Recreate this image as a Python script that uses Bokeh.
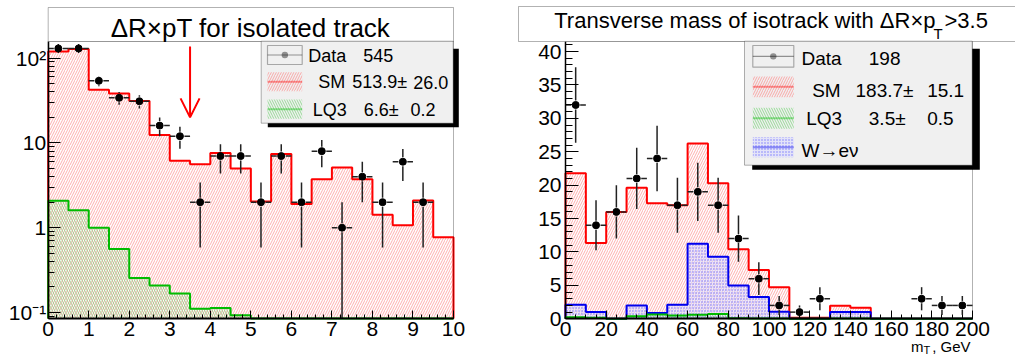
import math
from bokeh.plotting import figure
from bokeh.models import (Range1d, BoxAnnotation, Label, Arrow, OpenHead, FixedTicker,
                          SingleIntervalTicker, CustomJSTickFormatter)
from bokeh.layouts import row
from bokeh.embed import file_html
from bokeh.resources import INLINE

# ---------------- data : left panel (Delta R x pT, 0.5 wide bins) ----------------
DR_EDGES = [0.0, 0.5, 1.0, 1.5, 2.0, 2.5, 3.0, 3.5, 4.0, 4.5, 5.0,
            5.5, 6.0, 6.5, 7.0, 7.5, 8.0, 8.5, 9.0, 9.5, 10.0]
DR_SM = [120, 128, 42.3, 38.3, 31.3, 12.4, 6.15, 5.6, 7.6, 5.0,
         2.04, 7.4, 1.9, 3.74, 5.13, 3.74, 1.42, 1.07, 2.09, 0.77]
DR_LQ3 = [2.08, 1.61, 1.0, 0.56, 0.256, 0.208, 0.168, 0.111, 0.113, 0.093,
          0.05, 0.05, 0.04, 0.04, 0.04, 0.04, 0.03, 0.03, 0.03, 0.03]
DR_DATA = [130, 130, 54, 34, 31, 16, 12, 2, 7, 7, 2, 7, 2, 8, 1, 4, 2, 6, 2, 0]
DR_CUT = 3.5
DR_ARROW_Y = (137, 20)

# ---------------- data : right panel (mT, 10 GeV bins) ----------------
MT_EDGES = [0, 10, 20, 30, 40, 50, 60, 70, 80, 90, 100,
            110, 120, 130, 140, 150, 160, 170, 180, 190, 200]
MT_SM = [21.8, 11.35, 16.0, 19.6, 17.3, 17.0, 26.25, 20.3, 10.4, 7.3,
         4.72, 0.15, 0.15, 1.94, 1.64, 0, 0, 0, 0, 0]
MT_LQ3 = [0.25, 0.15, 0.0, 0.4, 0.65, 0.5, 0.6, 0.7, 0.1, 0.05,
          0.05, 0, 0, 0.05, 0.05, 0, 0, 0, 0, 0]
MT_W = [2.1, 1.0, 0.0, 2.0, 0.85, 2.1, 11.25, 9.3, 5.0, 3.25,
        1.05, 0, 0, 1.0, 1.0, 0, 0, 0, 0, 0]
MT_DATA = [32, 14, 16, 21, 24, 17, 19, 17, 12, 6, 2, 1, 3, 0, 0, 0, 0, 3, 2, 2]

LEFT_TITLE = "ΔR×pT for isolated track"
RIGHT_TITLE = ("Transverse mass of isotrack with ΔR×p", "T", ">3.5")
LEFT_LEGEND = [("Data", "545", ""), ("SM", "513.9±", "26.0"), ("LQ3", "6.6±", "0.2")]
RIGHT_LEGEND = [("Data", "198", ""), ("SM", "183.7±", "15.1"), ("LQ3", "3.5±", "0.5"),
                ("W→eν", "", "")]
XLABEL_RIGHT = ("m", "T", ", GeV")

# ---------------- style / geometry ----------------
FONT = "Liberation Sans"
RED, GREEN, BLUE = "#ff0000", "#00bb00", "#0000ee"
SM_HATCH = dict(hatch_pattern="/", hatch_color="#ff7878", hatch_alpha=0.6, hatch_scale=5, hatch_weight=1)
LQ_HATCH = dict(hatch_pattern="\\", hatch_color="#50c850", hatch_alpha=0.55, hatch_scale=5, hatch_weight=1)
W_HATCH = dict(hatch_pattern=".", hatch_color="#3030ff", hatch_alpha=0.6, hatch_scale=3, hatch_weight=1)
W_FILL = ("#d8d8ff", 0.55)

W1, W2, H = 508, 507, 357
# data frames in canvas pixels (left, right, top, bottom)
F1 = (47.7, 453.0, 41.0, 318.0)
F2 = (57.0, 464.0, 41.0, 318.3)
Y1MIN, Y1MAX = 0.085, 157.0
Y2MAX = 41.5
GAP = 4.5


def lin_range(lo, hi, a, b, size):
    """range that puts data lo at pixel a and hi at pixel b on a canvas of given size"""
    k = (hi - lo) / (b - a)
    return lo - a * k, hi + (size - b) * k


def style_axis(ax, tin, mtin, standoff, bounds, loc, lw=1.5):
    ax.fixed_location = loc
    ax.bounds = bounds
    ax.major_tick_in = tin
    ax.major_tick_out = 0
    ax.minor_tick_in = mtin
    ax.minor_tick_out = 0
    ax.axis_line_color = "black"
    ax.axis_line_width = lw
    ax.major_tick_line_color = "black"
    ax.minor_tick_line_color = "black"
    ax.major_label_text_font = FONT
    ax.major_label_text_font_size = "21px"
    ax.major_label_text_color = "black"
    ax.major_label_standoff = standoff


def base_fig(w, xr, yr, **kw):
    p = figure(width=w, height=H, x_range=xr, y_range=yr, output_backend="svg",
               toolbar_location=None, title=None,
               min_border_left=0, min_border_right=0, min_border_top=0, min_border_bottom=0, **kw)
    p.xgrid.visible = False
    p.ygrid.visible = False
    p.outline_line_color = None
    p.background_fill_color = "white"
    p.border_fill_color = "white"
    return p


def step_line(edges, vals, base):
    xs, ys = [edges[0]], [base]
    for i, v in enumerate(vals):
        xs += [edges[i], edges[i + 1]]
        ys += [max(v, base), max(v, base)]
    xs.append(edges[-1])
    ys.append(base)
    return xs, ys


def hist(p, edges, vals, base, color, hatch, fill=None):
    kw = dict(fill_alpha=0)
    if fill:
        kw = dict(fill_color=fill[0], fill_alpha=fill[1])
    p.quad(left=edges[:-1], right=edges[1:], bottom=[base] * len(vals),
           top=[max(v, base) for v in vals], line_alpha=0, **kw, **hatch)
    xs, ys = step_line(edges, vals, base)
    p.line(xs, ys, line_color=color, line_width=2)


def data_points(p, edges, counts, up, down, gx, low):
    x0, y0, x1, y1, cx, cy = [], [], [], [], [], []
    for i, n in enumerate(counts):
        if n <= 0:
            continue
        lo, hi = edges[i], edges[i + 1]
        c = 0.5 * (lo + hi)
        e = math.sqrt(n)
        cx.append(c)
        cy.append(n)
        x0 += [c, c, lo, c + gx]
        x1 += [c, c, c - gx, hi]
        y0 += [up(n), down(n), n, n]
        y1 += [n + e, max(n - e, low), n, n]
    p.segment(x0=x0, y0=y0, x1=x1, y1=y1, line_color="#222222", line_width=1.5)
    p.scatter(cx, cy, size=7, fill_color="black", line_color="black")


def cbox(p, l, r, t, b, **kw):
    p.add_layout(BoxAnnotation(left=l, right=r, top=t, bottom=b, left_units="canvas",
                               right_units="canvas", top_units="canvas", bottom_units="canvas",
                               level="annotation", **kw))


def clabel(p, x, y, text, size, align="left"):
    # y is the vertical middle of the text box, in canvas pixels from the top
    p.add_layout(Label(x=x, y=y, x_units="canvas", y_units="canvas", text=text,
                       text_font=FONT, text_font_size=size, text_align=align,
                       text_baseline="middle", text_color="black"))


def legend(p, box, shadow, sw_x, rows, swatches, size):
    cbox(p, *shadow, fill_color="black", fill_alpha=1, line_alpha=0)
    cbox(p, *box, fill_color="#f0f0f0", fill_alpha=1, line_color="black", line_width=1)
    for (kind, top, bot), (name_x, mid_t, name, v1x, v1, v2x, v2) in zip(swatches, rows):
        mid = 0.5 * (top + bot)
        if kind == "data":
            cbox(p, sw_x[0], sw_x[1], top, bot, fill_alpha=0, line_color="black", line_width=1.2)
            cbox(p, sw_x[0], sw_x[1], mid - 0.6, mid + 0.6, fill_color="black", line_alpha=0)
            cx = 0.5 * (sw_x[0] + sw_x[1])
            cbox(p, cx - 3.2, cx + 3.2, mid - 3.2, mid + 3.2, fill_color="black", line_alpha=0,
                 border_radius=3)
        else:
            color, hatch, fill = kind
            if fill:
                cbox(p, sw_x[0], sw_x[1], top, bot, fill_color=fill[0], fill_alpha=fill[1],
                     line_alpha=0, **hatch)
            else:
                cbox(p, sw_x[0], sw_x[1], top, bot, fill_alpha=0, line_alpha=0, **hatch)
            cbox(p, sw_x[0], sw_x[1], mid - 1, mid + 1, fill_color=color, line_alpha=0)
        clabel(p, name_x, mid_t, name, size)
        if v1:
            clabel(p, v1x, mid_t, v1, size)
        if v2:
            clabel(p, v2x, mid_t, v2, size)


# ======================= left panel =======================
ppd = (F1[3] - F1[2]) / math.log10(Y1MAX / Y1MIN)          # pixels per decade
x1r = lin_range(0, 10, F1[0], F1[1], W1)
y1r = (10 ** (math.log10(Y1MIN) - (H - F1[3]) / ppd), 10 ** (math.log10(Y1MAX) + F1[2] / ppd))
p1 = base_fig(W1, Range1d(*x1r), Range1d(*y1r), y_axis_type="log")
style_axis(p1.xaxis[0], 8, 4, 3, (0, 10), Y1MIN, lw=2)
style_axis(p1.yaxis[0], 12, 6, 2, (Y1MIN, Y1MAX), 0)
p1.xaxis.ticker = SingleIntervalTicker(interval=1, num_minor_ticks=5)
p1.yaxis.ticker = FixedTicker(ticks=[0.1, 1, 10, 100],
                              minor_ticks=[m * d for d in (0.01, 0.1, 1, 10) for m in range(2, 10)
                                           if Y1MIN < m * d < Y1MAX])
p1.yaxis.formatter = CustomJSTickFormatter(code="""
    if (tick > 50) return "10\u00b2";
    if (tick > 5) return "10";
    if (tick > 0.5) return "1";
    return "10\u207b\u00b9";
""")

hist(p1, DR_EDGES, DR_SM, Y1MIN, RED, SM_HATCH)
hist(p1, DR_EDGES, DR_LQ3, Y1MIN, GREEN, LQ_HATCH)

fac = 10 ** (GAP / ppd)
data_points(p1, DR_EDGES, DR_DATA, lambda n: n * fac, lambda n: n / fac,
            GAP * 10 / (F1[1] - F1[0]), Y1MIN)

p1.add_layout(Arrow(end=OpenHead(line_color=RED, line_width=2, size=19),
                    x_start=DR_CUT, y_start=DR_ARROW_Y[0], x_end=DR_CUT, y_end=DR_ARROW_Y[1],
                    line_color=RED, line_width=2))

# frame outline
p1.add_layout(BoxAnnotation(left=0, right=10, bottom=Y1MIN, top=Y1MAX, fill_alpha=0,
                            line_color="black", line_width=1))
# title box
cbox(p1, F1[0], F1[1], 7, F1[2], fill_color="white", fill_alpha=1, line_color="black", line_width=1)
clabel(p1, 250, 27.5, LEFT_TITLE, "26px", align="center")

# legend
legend(p1, (260.7, 452.7, 40.7, 122.7), (267.3, 458.3, 48.3, 126.7), (267, 301.7),
       [(307.7, 55, LEFT_LEGEND[0][0], 362.7, LEFT_LEGEND[0][1], 0, LEFT_LEGEND[0][2]),
        (317.7, 81.7, LEFT_LEGEND[1][0], 351.7, LEFT_LEGEND[1][1], 412.7, LEFT_LEGEND[1][2]),
        (312.3, 109.3, LEFT_LEGEND[2][0], 363.3, LEFT_LEGEND[2][1], 410, LEFT_LEGEND[2][2])],
       [("data", 45, 64), ((RED, SM_HATCH, None), 71.7, 90.7), ((GREEN, LQ_HATCH, None), 99, 118.3)],
       "18px")

# ======================= right panel =======================
x2r = lin_range(0, 200, F2[0], F2[1], W2)
y2r = lin_range(0, Y2MAX, H - F2[3], H - F2[2], H)
p2 = base_fig(W2, Range1d(*x2r), Range1d(*y2r))
style_axis(p2.xaxis[0], 8, 4, 3, (0, 200), 0, lw=2)
style_axis(p2.yaxis[0], 13, 7, 4, (0, Y2MAX), 0)
p2.xaxis.ticker = SingleIntervalTicker(interval=20, num_minor_ticks=4)
p2.yaxis.ticker = SingleIntervalTicker(interval=5, num_minor_ticks=5)

hist(p2, MT_EDGES, MT_SM, 0, RED, SM_HATCH)
hist(p2, MT_EDGES, MT_W, 0, BLUE, W_HATCH, fill=W_FILL)
hist(p2, MT_EDGES, MT_LQ3, 0, GREEN, LQ_HATCH)

gy = GAP * Y2MAX / (F2[3] - F2[2])
data_points(p2, MT_EDGES, MT_DATA, lambda n: n + gy, lambda n: n - gy,
            GAP * 200 / (F2[1] - F2[0]), 0)

p2.add_layout(BoxAnnotation(left=0, right=200, bottom=0, top=Y2MAX, fill_alpha=0,
                            line_color="black", line_width=1))
cbox(p2, 10, 530, 6, F2[2], fill_color="white", fill_alpha=1, line_color="black", line_width=1)
clabel(p2, 427, 19.5, RIGHT_TITLE[0], "22px", align="right")
clabel(p2, 425, 33, RIGHT_TITLE[1], "15px")
clabel(p2, 436, 19.5, RIGHT_TITLE[2], "22px")

legend(p2, (236, 463.7, 40.7, 164.7), (243.7, 471.3, 48.3, 169.3), (244.3, 285.3),
       [(293, 58.3, RIGHT_LEGEND[0][0], 360.3, RIGHT_LEGEND[0][1], 0, ""),
        (303.7, 89.7, RIGHT_LEGEND[1][0], 347, RIGHT_LEGEND[1][1], 418.7, RIGHT_LEGEND[1][2]),
        (297.7, 117.5, RIGHT_LEGEND[2][0], 360.3, RIGHT_LEGEND[2][1], 418.7, RIGHT_LEGEND[2][2]),
        (293, 149.7, RIGHT_LEGEND[3][0], 0, "", 0, "")],
       [("data", 45, 66.7), ((RED, SM_HATCH, None), 76, 96.7), ((GREEN, LQ_HATCH, None), 107.3, 128.3),
        ((BLUE, W_HATCH, W_FILL), 136.7, 156.7)],
       "19px")

clabel(p2, 415, 345.5, XLABEL_RIGHT[0], "15px", align="right")
clabel(p2, 415, 349.5, XLABEL_RIGHT[1], "11px")
clabel(p2, 462, 345.5, XLABEL_RIGHT[2], "15px", align="right")

layout = row(p1, p2)
open("out.html", "w").write(file_html(layout, INLINE))
